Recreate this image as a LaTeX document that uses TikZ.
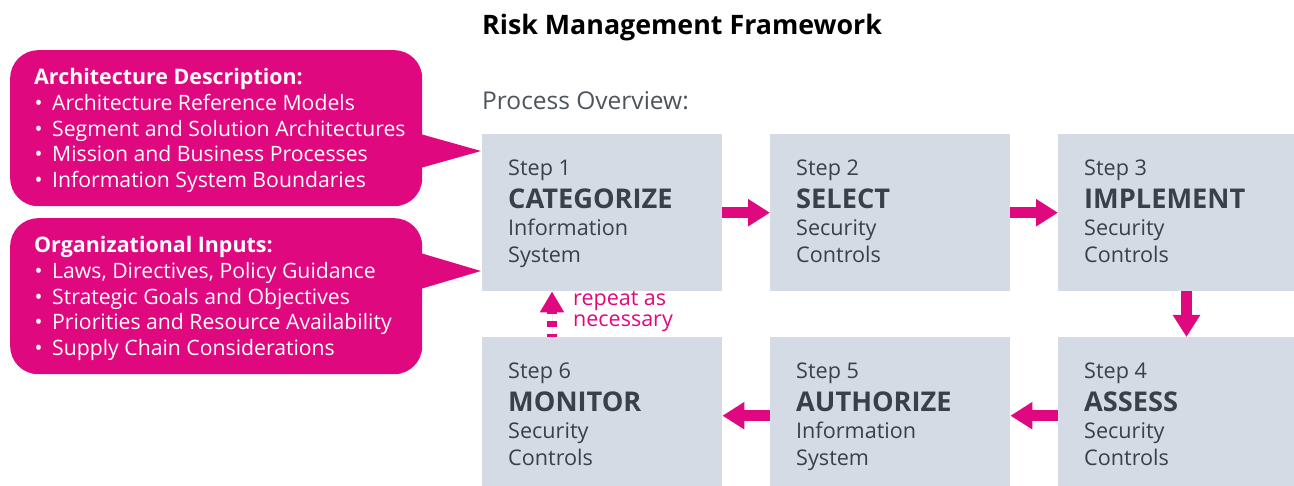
\documentclass[tikz,border=0pt]{standalone}
\usepackage{fontspec}
\setmainfont{Open Sans}
\usetikzlibrary{arrows.meta,calc}

\definecolor{rmfpink}{HTML}{E0087F}
\definecolor{rmfbox}{HTML}{D5DBE5}
\definecolor{rmfink}{HTML}{3A4049}
\definecolor{rmfgray}{HTML}{4E545C}

\tikzset{
  txt/.style={inner sep=0pt, anchor=base west},
  titletxt/.style={txt, text=black, font=\fontsize{26.8}{30}\selectfont\bfseries},
  subtxt/.style={txt, text=rmfgray, font=\fontsize{24.5}{28}\selectfont},
  stepbox/.style={fill=rmfbox, draw=none, minimum width=240pt, minimum height=157pt,
    inner sep=0pt, anchor=north west},
  steplbl/.style={txt, text=rmfink, font=\fontsize{21.6}{26}\selectfont},
  stepname/.style={txt, text=rmfink, font=\fontsize{27.2}{30}\selectfont\bfseries},
  callbox/.style={fill=rmfpink, draw=none, rounded corners=28pt, minimum width=412pt,
    minimum height=156pt, inner sep=0pt, anchor=north west},
  callhead/.style={txt, text=white, font=\fontsize{21.4}{25}\selectfont\bfseries},
  callitem/.style={txt, text=white, font=\fontsize{21.2}{25}\selectfont},
  flow/.style={draw=rmfpink, line width=10.5pt,
    -{Triangle[length=22pt, width=26pt]}, fill=rmfpink},
  loopback/.style={draw=rmfpink, line width=10pt,
    -{Triangle[length=21pt, width=23pt]}, fill=rmfpink,
    dash pattern=on 6pt off 7pt, dash phase=3pt},
  note/.style={txt, text=rmfpink, font=\fontsize{21.5}{24}\selectfont},
}

% one process step: name, x, y, step label, step name, two description lines
\newcommand\rmfstep[7]{%
  \node[stepbox] (#1) at (#2,#3) {};
  \node[steplbl]  (#1-step)  at ($(#1.north west)+(26,41.5)$)  {#4};
  \node[stepname] (#1-name)  at ($(#1.north west)+(26,74.5)$)  {#5};
  \node[steplbl]  (#1-lineA) at ($(#1.north west)+(26,101.5)$) {#6};
  \node[steplbl]  (#1-lineB) at ($(#1.north west)+(26,128.5)$) {#7};
}

% one bulleted line inside a callout
\newcommand\rmfitem[3]{%
  \node[callitem] (#1) at (34,#2) {\makebox[18pt][l]{\hspace{0.5pt}\textbullet}#3};
}

\begin{document}
\begin{tikzpicture}[x=1pt,y=-1pt]
  \clip (0,0) rectangle (1294,486);
  \fill[white] (0,0) rectangle (1294,486);

  % headings
  \node[titletxt] (title) at (482,35) {Risk Management Framework};
  \node[subtxt] (overview) at (482,110) {Process Overview:};

  % the six steps
  \rmfstep{s1}{482}{134}{Step 1}{CATEGORIZE}{Information}{System}
  \rmfstep{s2}{770}{134}{Step 2}{SELECT}{Security}{Controls}
  \rmfstep{s3}{1058}{134}{Step 3}{IMPLEMENT}{Security}{Controls}
  \rmfstep{s4}{1058}{337}{Step 4}{ASSESS}{Security}{Controls}
  \rmfstep{s5}{770}{337}{Step 5}{AUTHORIZE}{Information}{System}
  \rmfstep{s6}{482}{337}{Step 6}{MONITOR}{Security}{Controls}

  % flow between the steps
  \draw[flow] (s1.east) -- (s2.west);
  \draw[flow] (s2.east) -- (s3.west);
  \draw[flow] ($(s3.south west)+(128.5,0)$) -- ($(s4.north west)+(128.5,0)$);
  \draw[flow] (s4.west) -- (s5.east);
  \draw[flow] (s5.west) -- (s6.east);
  \draw[loopback] ($(s6.north west)+(70,0)$) -- ($(s1.south west)+(70,0)$);
  \node[note] (repeatA) at (573,305.5) {repeat as};
  \node[note] (repeatB) at (573,327) {necessary};

  % input callouts
  \node[callbox] (callA) at (10,50) {};
  \coordinate (tipA) at (481,151);
  \fill[rmfpink] ($(callA.north east)+(-2,84)$) -- (tipA) -- ($(callA.north east)+(-2,118)$) -- cycle;
  \node[callhead] (callA-head) at (34,85) {Architecture Description:};
  \rmfitem{callA-1}{110.7}{Architecture Reference Models}
  \rmfitem{callA-2}{136.4}{Segment and Solution Architectures}
  \rmfitem{callA-3}{162}{Mission and Business Processes}
  \rmfitem{callA-4}{187.7}{Information System Boundaries}

  \node[callbox] (callB) at (10,218) {};
  \coordinate (tipB) at (481,271);
  \fill[rmfpink] ($(callB.north east)+(-2,35)$) -- (tipB) -- ($(callB.north east)+(-2,71)$) -- cycle;
  \node[callhead] (callB-head) at (34,252.7) {Organizational Inputs:};
  \rmfitem{callB-1}{278.4}{Laws, Directives, Policy Guidance}
  \rmfitem{callB-2}{304.1}{Strategic Goals and Objectives}
  \rmfitem{callB-3}{329.8}{Priorities and Resource Availability}
  \rmfitem{callB-4}{355.5}{Supply Chain Considerations}
\end{tikzpicture}
\end{document}
